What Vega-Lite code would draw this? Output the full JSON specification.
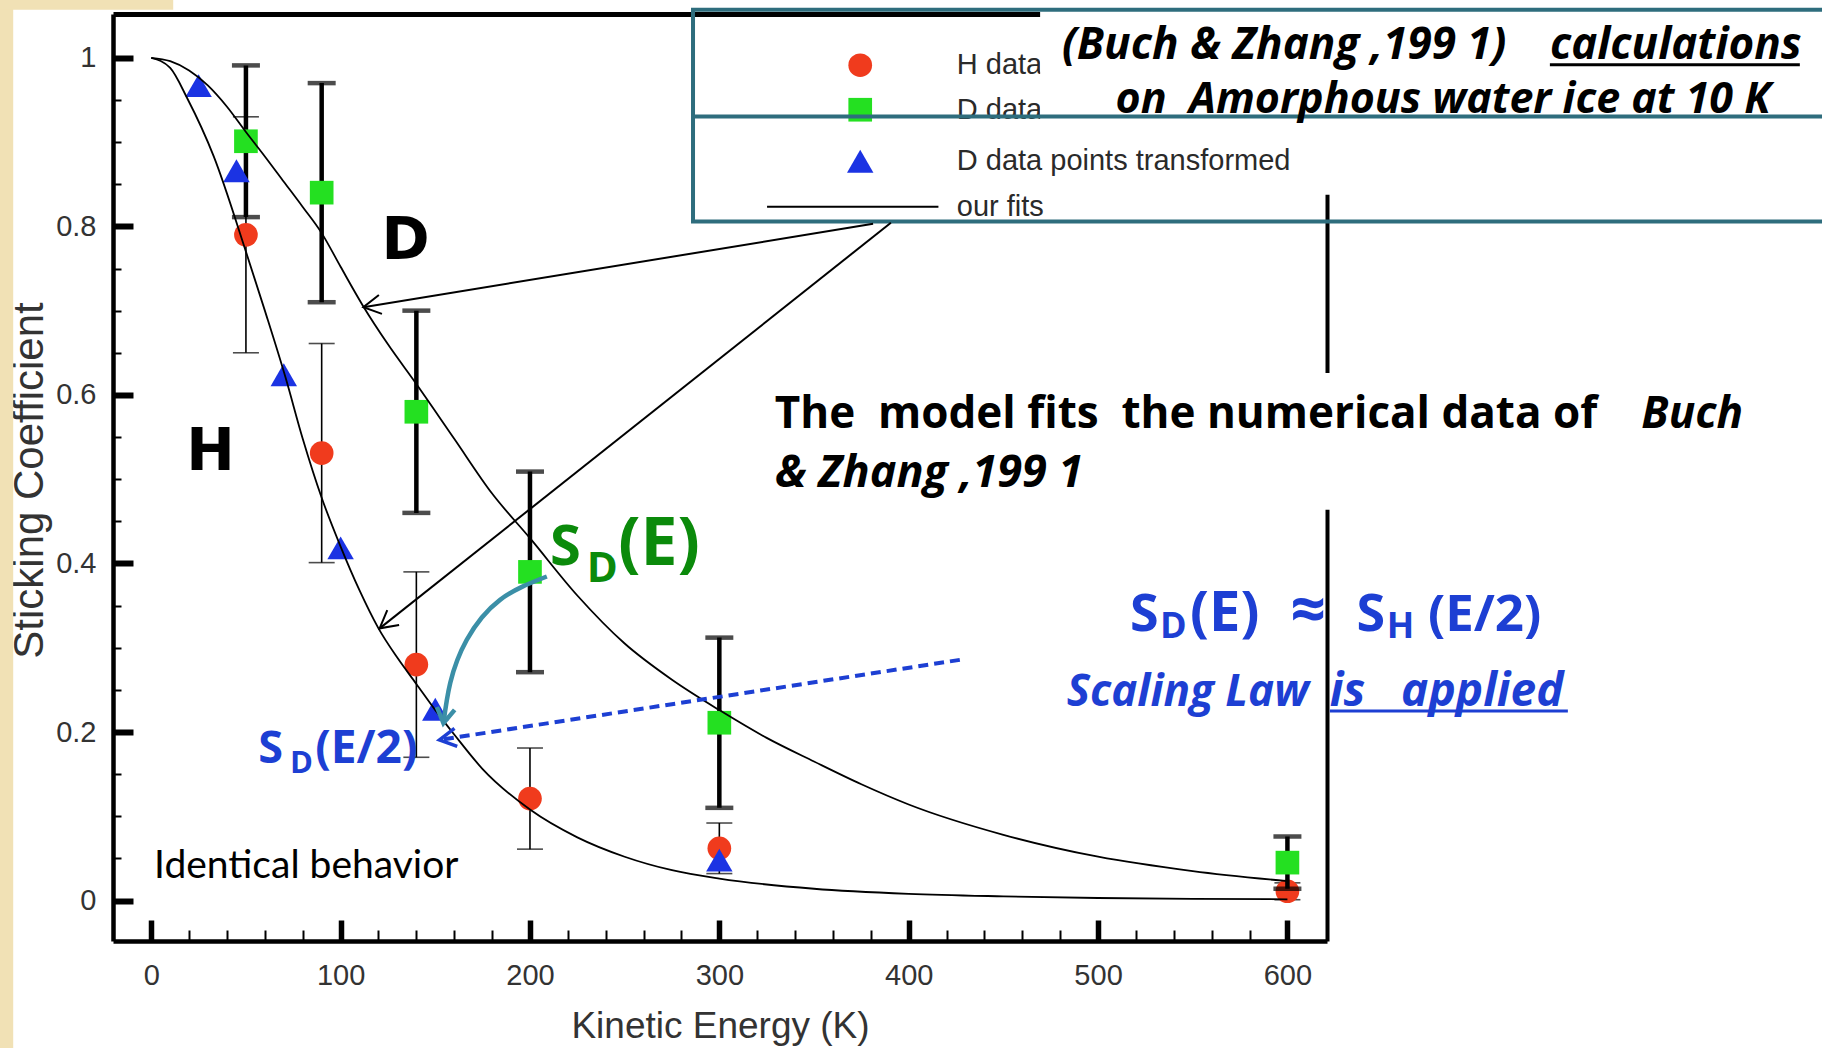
{
  "$schema": "https://vega.github.io/schema/vega-lite/v6.json",
  "width": 1214,
  "height": 927,
  "autosize": {"type": "none"},
  "padding": {"left": 113, "top": 14, "right": 495, "bottom": 107},
  "background": "white",
  "config": {"view": {"stroke": null}, "font": "Liberation Sans"},
  "data": {"values": [{}]},
  "datasets": {
    "H": [
      {"E": 50, "S": 0.79, "err": 0.14},
      {"E": 90, "S": 0.531, "err": 0.13},
      {"E": 140, "S": 0.28, "err": 0.11},
      {"E": 200, "S": 0.121, "err": 0.06},
      {"E": 300, "S": 0.062, "err": 0.03},
      {"E": 600, "S": 0.011, "err": 0.01}
    ],
    "D": [
      {"E": 50, "S": 0.901, "err": 0.09},
      {"E": 90, "S": 0.84, "err": 0.13},
      {"E": 140, "S": 0.58, "err": 0.12},
      {"E": 200, "S": 0.39, "err": 0.119},
      {"E": 300, "S": 0.211, "err": 0.101},
      {"E": 600, "S": 0.045, "err": 0.031}
    ],
    "Dt": [
      {"E": 25, "S": 0.967},
      {"E": 45, "S": 0.866},
      {"E": 70, "S": 0.624},
      {"E": 100, "S": 0.4185},
      {"E": 150, "S": 0.227},
      {"E": 300, "S": 0.048}
    ],
    "fits": [
      {"curve": "H", "E": 0, "S": 1.0}, {"curve": "H", "E": 10, "S": 0.988}, {"curve": "H", "E": 19, "S": 0.952},
      {"curve": "H", "E": 33, "S": 0.883}, {"curve": "H", "E": 50, "S": 0.77}, {"curve": "H", "E": 60, "S": 0.7},
      {"curve": "H", "E": 71, "S": 0.62}, {"curve": "H", "E": 80, "S": 0.548}, {"curve": "H", "E": 90, "S": 0.478},
      {"curve": "H", "E": 100, "S": 0.42}, {"curve": "H", "E": 110, "S": 0.368}, {"curve": "H", "E": 120, "S": 0.323},
      {"curve": "H", "E": 130, "S": 0.288}, {"curve": "H", "E": 140, "S": 0.257}, {"curve": "H", "E": 150, "S": 0.226},
      {"curve": "H", "E": 160, "S": 0.197}, {"curve": "H", "E": 175, "S": 0.156}, {"curve": "H", "E": 200, "S": 0.108},
      {"curve": "H", "E": 225, "S": 0.075}, {"curve": "H", "E": 250, "S": 0.052}, {"curve": "H", "E": 275, "S": 0.036},
      {"curve": "H", "E": 300, "S": 0.026}, {"curve": "H", "E": 350, "S": 0.014}, {"curve": "H", "E": 400, "S": 0.008},
      {"curve": "H", "E": 450, "S": 0.005}, {"curve": "H", "E": 500, "S": 0.003}, {"curve": "H", "E": 550, "S": 0.002},
      {"curve": "H", "E": 600, "S": 0.0015},
      {"curve": "D", "E": 0, "S": 1.0}, {"curve": "D", "E": 10, "S": 0.996}, {"curve": "D", "E": 20, "S": 0.985},
      {"curve": "D", "E": 30, "S": 0.967}, {"curve": "D", "E": 40, "S": 0.942}, {"curve": "D", "E": 50, "S": 0.912},
      {"curve": "D", "E": 60, "S": 0.883}, {"curve": "D", "E": 70, "S": 0.853}, {"curve": "D", "E": 80, "S": 0.823},
      {"curve": "D", "E": 90, "S": 0.792}, {"curve": "D", "E": 100, "S": 0.752}, {"curve": "D", "E": 112, "S": 0.705},
      {"curve": "D", "E": 125, "S": 0.66}, {"curve": "D", "E": 140, "S": 0.613}, {"curve": "D", "E": 160, "S": 0.548},
      {"curve": "D", "E": 180, "S": 0.483}, {"curve": "D", "E": 200, "S": 0.43}, {"curve": "D", "E": 225, "S": 0.362},
      {"curve": "D", "E": 250, "S": 0.305}, {"curve": "D", "E": 275, "S": 0.262}, {"curve": "D", "E": 300, "S": 0.226},
      {"curve": "D", "E": 325, "S": 0.193}, {"curve": "D", "E": 350, "S": 0.165}, {"curve": "D", "E": 375, "S": 0.138},
      {"curve": "D", "E": 400, "S": 0.114}, {"curve": "D", "E": 450, "S": 0.078}, {"curve": "D", "E": 500, "S": 0.052},
      {"curve": "D", "E": 550, "S": 0.035}, {"curve": "D", "E": 600, "S": 0.023}
    ],
    "arc": [
      {"E": 208.9, "S": 0.3845},
      {"E": 184.2, "S": 0.3568},
      {"E": 166.6, "S": 0.3093},
      {"E": 157.9, "S": 0.2583},
      {"E": 154.3, "S": 0.2104}
    ]
  },
  "resolve": {"axis": {"x": "independent", "y": "independent"}},
  "layer": [
    {
      "mark": {"type": "rect", "fill": "#f1e1b5"},
      "encoding": {
        "x": {"datum": -81, "axis": null}, "x2": {"datum": -72.9},
        "y": {"datum": -0.2, "axis": null}, "y2": {"datum": 1.1}
      }
    },
    {
      "mark": {"type": "rect", "fill": "#f1e1b5"},
      "encoding": {
        "x": {"datum": -81, "axis": null}, "x2": {"datum": 11.6},
        "y": {"datum": 1.0571, "axis": null}, "y2": {"datum": 1.1}
      }
    },
    {
      "mark": {"type": "rect", "fill": "white"},
      "encoding": {
        "x": {"datum": 560, "axis": null}, "x2": {"datum": 640},
        "y": {"datum": 0.8375, "axis": null}, "y2": {"datum": 0.95}
      }
    },
    {
      "data": {"name": "H"},
      "mark": {"type": "errorbar", "ticks": true, "thickness": 1.6, "size": 26, "color": "black"},
      "encoding": {
        "x": {"field": "E", "type": "quantitative", "axis": null, "scale": {"domain": [-20.2, 620.9], "nice": false, "zero": false}},
        "y": {"field": "S", "type": "quantitative", "axis": null, "scale": {"domain": [-0.048, 1.052], "nice": false, "zero": false}},
        "yError": {"field": "err"}
      }
    },
    {
      "data": {"name": "H"},
      "mark": {"type": "point", "shape": "circle", "filled": true, "fill": "#f03b1d", "size": 560, "opacity": 1, "strokeWidth": 0},
      "encoding": {
        "x": {
          "field": "E", "type": "quantitative",
          "scale": {"domain": [-20.2, 620.9], "nice": false, "zero": false},
          "axis": {
            "orient": "bottom", "values": [0, 100, 200, 300, 400, 500, 600], "format": "d",
            "tickSize": -21, "tickWidth": 5.5, "tickColor": "black",
            "domainWidth": 4.5, "domainColor": "black",
            "labelFont": "Liberation Sans", "labelFontSize": 29, "labelColor": "#333", "labelPadding": 41,
            "title": "Kinetic Energy (K)", "titleFont": "Liberation Sans", "titleFontSize": 37,
            "titleFontWeight": "normal", "titleColor": "#333",
            "titleX": 607, "titleY": 96, "titleAlign": "center", "titleBaseline": "alphabetic",
            "grid": false, "zindex": 0
          }
        },
        "y": {
          "field": "S", "type": "quantitative",
          "scale": {"domain": [-0.048, 1.052], "nice": false, "zero": false},
          "axis": {
            "orient": "left", "values": [0, 0.2, 0.4, 0.6, 0.8, 1], "format": "~g",
            "tickSize": -20, "tickWidth": 6, "tickColor": "black",
            "domainWidth": 4.5, "domainColor": "black",
            "labelFont": "Liberation Sans", "labelFontSize": 29, "labelColor": "#333", "labelPadding": 37,
            "title": "Sticking Coefficient", "titleFont": "Liberation Sans", "titleFontSize": 42,
            "titleFontWeight": "normal", "titleColor": "#333",
            "titleX": -84, "titleY": 466, "titleAngle": -90, "titleAlign": "center", "titleBaseline": "middle",
            "grid": false, "zindex": 0
          }
        }
      }
    },
    {
      "data": {"name": "D"},
      "mark": {"type": "errorbar", "ticks": true, "thickness": 4.5, "size": 28, "color": "black"},
      "encoding": {
        "x": {"field": "E", "type": "quantitative", "axis": null},
        "y": {"field": "S", "type": "quantitative", "axis": null},
        "yError": {"field": "err"}
      }
    },
    {
      "data": {"name": "D"},
      "mark": {"type": "point", "shape": "square", "filled": true, "fill": "#24e021", "size": 560, "opacity": 1, "strokeWidth": 0},
      "encoding": {
        "x": {
          "field": "E", "type": "quantitative",
          "axis": {
            "orient": "bottom",
            "values": [20, 40, 60, 80, 120, 140, 160, 180, 220, 240, 260, 280, 320, 340, 360, 380, 420, 440, 460, 480, 520, 540, 560, 580],
            "tickSize": -11, "tickWidth": 2, "tickColor": "black",
            "labels": false, "domain": false, "grid": false, "title": null, "zindex": 0
          }
        },
        "y": {
          "field": "S", "type": "quantitative",
          "axis": {
            "orient": "left",
            "values": [0.05, 0.1, 0.15, 0.25, 0.3, 0.35, 0.45, 0.5, 0.55, 0.65, 0.7, 0.75, 0.85, 0.9, 0.95],
            "tickSize": -8, "tickWidth": 2, "tickColor": "black",
            "labels": false, "domain": false, "grid": false, "title": null, "zindex": 0
          }
        }
      }
    },
    {
      "data": {"name": "Dt"},
      "mark": {"type": "point", "shape": "triangle-up", "filled": true, "fill": "#1b33e3", "size": 700, "opacity": 1, "strokeWidth": 0},
      "encoding": {
        "x": {
          "field": "E", "type": "quantitative",
          "axis": {"orient": "top", "ticks": false, "labels": false, "domainWidth": 5, "domainColor": "black", "grid": false, "title": null, "zindex": 0}
        },
        "y": {
          "field": "S", "type": "quantitative",
          "axis": {"orient": "right", "ticks": false, "labels": false, "domainWidth": 4, "domainColor": "black", "grid": false, "title": null, "zindex": 0}
        }
      }
    },
    {
      "data": {"name": "fits"},
      "mark": {"type": "line", "stroke": "black", "strokeWidth": 1.8, "interpolate": "monotone"},
      "encoding": {
        "x": {"field": "E", "type": "quantitative", "axis": null},
        "y": {"field": "S", "type": "quantitative", "axis": null},
        "detail": {"field": "curve"}
      }
    },
    {
      "mark": {"type": "point", "shape": "circle", "filled": true, "fill": "#f03b1d", "size": 560, "opacity": 1, "strokeWidth": 0},
      "encoding": {"x": {"datum": 374.4, "axis": null}, "y": {"datum": 0.9912, "axis": null}}
    },
    {
      "mark": {"type": "point", "shape": "square", "filled": true, "fill": "#24e021", "size": 560, "opacity": 1, "strokeWidth": 0},
      "encoding": {"x": {"datum": 374.4, "axis": null}, "y": {"datum": 0.9384, "axis": null}}
    },
    {
      "mark": {"type": "point", "shape": "triangle-up", "filled": true, "fill": "#1b33e3", "size": 700, "opacity": 1, "strokeWidth": 0},
      "encoding": {"x": {"datum": 374.4, "axis": null}, "y": {"datum": 0.8773, "axis": null}}
    },
    {
      "mark": {"type": "rule", "stroke": "black", "strokeWidth": 1.8},
      "encoding": {"x": {"datum": 325.2, "axis": null}, "x2": {"datum": 415.7}, "y": {"datum": 0.8233, "axis": null}}
    },
    {
      "mark": {"type": "text", "text": "H data", "align": "left", "baseline": "middle", "font": "Liberation Sans", "fontSize": 29, "fill": "#2a2a2a"},
      "encoding": {"x": {"datum": 425.4, "axis": null}, "y": {"datum": 0.9912, "axis": null}}
    },
    {
      "mark": {"type": "text", "text": "D data", "align": "left", "baseline": "middle", "font": "Liberation Sans", "fontSize": 29, "fill": "#2a2a2a"},
      "encoding": {"x": {"datum": 425.4, "axis": null}, "y": {"datum": 0.9384, "axis": null}}
    },
    {
      "mark": {"type": "text", "text": "D data points transformed", "align": "left", "baseline": "middle", "font": "Liberation Sans", "fontSize": 29, "fill": "#2a2a2a"},
      "encoding": {"x": {"datum": 425.4, "axis": null}, "y": {"datum": 0.8773, "axis": null}}
    },
    {
      "mark": {"type": "text", "text": "our fits", "align": "left", "baseline": "middle", "font": "Liberation Sans", "fontSize": 29, "fill": "#2a2a2a"},
      "encoding": {"x": {"datum": 425.4, "axis": null}, "y": {"datum": 0.8233, "axis": null}}
    },
    {
      "mark": {"type": "rect", "fill": "white"},
      "encoding": {
        "x": {"datum": 469.4, "axis": null}, "x2": {"datum": 900},
        "y": {"datum": 0.9146, "axis": null}, "y2": {"datum": 1.1}
      }
    },
    {
      "mark": {"type": "rect", "fill": "white"},
      "encoding": {
        "x": {"datum": 325, "axis": null}, "x2": {"datum": 900},
        "y": {"datum": 0.4636, "axis": null}, "y2": {"datum": 0.626}
      }
    },
    {
      "mark": {"type": "rect", "fill": "transparent", "stroke": "#2e6d7d", "strokeWidth": 4},
      "encoding": {
        "x": {"datum": 286.1, "axis": null}, "x2": {"datum": 886.4},
        "y": {"datum": 0.8058, "axis": null}, "y2": {"datum": 1.0571}
      }
    },
    {
      "mark": {"type": "rule", "stroke": "#2e6d7d", "strokeWidth": 4},
      "encoding": {"x": {"datum": 286.1, "axis": null}, "x2": {"datum": 886.4}, "y": {"datum": 0.9305, "axis": null}}
    },
    {
      "mark": {"type": "rule", "stroke": "black", "strokeWidth": 2},
      "encoding": {"x": {"datum": 381.2, "axis": null}, "y": {"datum": 0.803, "axis": null}, "x2": {"datum": 112.0}, "y2": {"datum": 0.704}}
    },
    {
      "mark": {"type": "point", "shape": "M -1 -0.55 L 0 0 L -1 0.55", "angle": 170.7, "size": 1200, "filled": false, "stroke": "black", "strokeWidth": 2, "opacity": 1},
      "encoding": {"x": {"datum": 112.0, "axis": null}, "y": {"datum": 0.704, "axis": null}}
    },
    {
      "mark": {"type": "rule", "stroke": "black", "strokeWidth": 2},
      "encoding": {"x": {"datum": 390.6, "axis": null}, "y": {"datum": 0.8043, "axis": null}, "x2": {"datum": 120.6}, "y2": {"datum": 0.323}}
    },
    {
      "mark": {"type": "point", "shape": "M -1 -0.55 L 0 0 L -1 0.55", "angle": 141.6, "size": 1200, "filled": false, "stroke": "black", "strokeWidth": 2, "opacity": 1},
      "encoding": {"x": {"datum": 120.6, "axis": null}, "y": {"datum": 0.323, "axis": null}}
    },
    {
      "data": {"name": "arc"},
      "mark": {"type": "line", "stroke": "#3b8fa7", "strokeWidth": 4.5, "interpolate": "natural"},
      "encoding": {
        "x": {"field": "E", "type": "quantitative", "axis": null},
        "y": {"field": "S", "type": "quantitative", "axis": null}
      }
    },
    {
      "mark": {"type": "point", "shape": "M -1 -0.6 L 0 0 L -1 0.6", "angle": 99, "size": 900, "filled": false, "stroke": "#3b8fa7", "strokeWidth": 4.5, "opacity": 1},
      "encoding": {"x": {"datum": 154.3, "axis": null}, "y": {"datum": 0.2104, "axis": null}}
    },
    {
      "mark": {"type": "rule", "stroke": "#1d3fd3", "strokeWidth": 4, "strokeDash": [10, 6]},
      "encoding": {"x": {"datum": 427, "axis": null}, "y": {"datum": 0.2856, "axis": null}, "x2": {"datum": 152.2}, "y2": {"datum": 0.1906}}
    },
    {
      "mark": {"type": "point", "shape": "M -1 -0.55 L 0 0 L -1 0.55", "angle": 171.3, "size": 1100, "filled": false, "stroke": "#1d3fd3", "strokeWidth": 3.5, "opacity": 1},
      "encoding": {"x": {"datum": 152.2, "axis": null}, "y": {"datum": 0.1906, "axis": null}}
    },
    {
      "mark": {"type": "text", "text": "D", "align": "center", "baseline": "middle", "font": "DejaVu Sans", "fontWeight": "bold", "fontSize": 58, "fill": "black"},
      "encoding": {"x": {"datum": 134.3, "axis": null}, "y": {"datum": 0.782, "axis": null}}
    },
    {
      "mark": {"type": "text", "text": "H", "align": "center", "baseline": "middle", "font": "DejaVu Sans", "fontWeight": "bold", "fontSize": 58, "fill": "black"},
      "encoding": {"x": {"datum": 31.3, "axis": null}, "y": {"datum": 0.531, "axis": null}}
    },
    {
      "mark": {"type": "text", "text": "Identical behavior", "align": "left", "baseline": "alphabetic", "font": "Lato", "fontSize": 39, "fill": "black"},
      "encoding": {"x": {"datum": 1.5, "axis": null}, "y": {"datum": 0.027, "axis": null}}
    },
    {
      "mark": {"type": "text", "text": "S", "align": "left", "baseline": "alphabetic", "font": "Open Sans", "fontWeight": "bold", "fontSize": 56, "fill": "#0b8a0b"},
      "encoding": {"x": {"datum": 210.6, "axis": null}, "y": {"datum": 0.3983, "axis": null}}
    },
    {
      "mark": {"type": "text", "text": "D", "align": "left", "baseline": "alphabetic", "font": "Open Sans", "fontWeight": "bold", "fontSize": 42, "fill": "#0b8a0b"},
      "encoding": {"x": {"datum": 230, "axis": null}, "y": {"datum": 0.3785, "axis": null}}
    },
    {
      "mark": {"type": "text", "text": "(E)", "align": "left", "baseline": "alphabetic", "font": "Open Sans", "fontWeight": "bold", "fontSize": 66, "fill": "#0b8a0b"},
      "encoding": {"x": {"datum": 246.6, "axis": null}, "y": {"datum": 0.3983, "axis": null}}
    },
    {
      "mark": {"type": "text", "text": "S", "align": "left", "baseline": "alphabetic", "font": "Open Sans", "fontWeight": "bold", "fontSize": 45, "fill": "#1d3fd3"},
      "encoding": {"x": {"datum": 56.5, "axis": null}, "y": {"datum": 0.1638, "axis": null}}
    },
    {
      "mark": {"type": "text", "text": "D", "align": "left", "baseline": "alphabetic", "font": "Open Sans", "fontWeight": "bold", "fontSize": 31, "fill": "#1d3fd3"},
      "encoding": {"x": {"datum": 73.3, "axis": null}, "y": {"datum": 0.1518, "axis": null}}
    },
    {
      "mark": {"type": "text", "text": "(E/2)", "align": "left", "baseline": "alphabetic", "font": "Open Sans", "fontWeight": "bold", "fontSize": 46, "fill": "#1d3fd3"},
      "encoding": {"x": {"datum": 86.6, "axis": null}, "y": {"datum": 0.1638, "axis": null}}
    },
    {
      "mark": {"type": "text", "text": "S", "align": "left", "baseline": "alphabetic", "font": "Open Sans", "fontWeight": "bold", "fontSize": 52, "fill": "#1d3fd3"},
      "encoding": {"x": {"datum": 516.9, "axis": null}, "y": {"datum": 0.32, "axis": null}}
    },
    {
      "mark": {"type": "text", "text": "D", "align": "left", "baseline": "alphabetic", "font": "Open Sans", "fontWeight": "bold", "fontSize": 36, "fill": "#1d3fd3"},
      "encoding": {"x": {"datum": 532.7, "axis": null}, "y": {"datum": 0.3117, "axis": null}}
    },
    {
      "mark": {"type": "text", "text": "(E)", "align": "left", "baseline": "alphabetic", "font": "Open Sans", "fontWeight": "bold", "fontSize": 56, "fill": "#1d3fd3"},
      "encoding": {"x": {"datum": 548.6, "axis": null}, "y": {"datum": 0.32, "axis": null}}
    },
    {
      "mark": {"type": "text", "text": "≈", "align": "left", "baseline": "alphabetic", "font": "Open Sans", "fontWeight": "bold", "fontSize": 62, "fill": "#1d3fd3"},
      "encoding": {"x": {"datum": 601.5, "axis": null}, "y": {"datum": 0.32, "axis": null}}
    },
    {
      "mark": {"type": "text", "text": "S", "align": "left", "baseline": "alphabetic", "font": "Open Sans", "fontWeight": "bold", "fontSize": 52, "fill": "#1d3fd3"},
      "encoding": {"x": {"datum": 636.5, "axis": null}, "y": {"datum": 0.32, "axis": null}}
    },
    {
      "mark": {"type": "text", "text": "H", "align": "left", "baseline": "alphabetic", "font": "Open Sans", "fontWeight": "bold", "fontSize": 36, "fill": "#1d3fd3"},
      "encoding": {"x": {"datum": 652.4, "axis": null}, "y": {"datum": 0.3117, "axis": null}}
    },
    {
      "mark": {"type": "text", "text": "(E/2)", "align": "left", "baseline": "alphabetic", "font": "Open Sans", "fontWeight": "bold", "fontSize": 51, "fill": "#1d3fd3"},
      "encoding": {"x": {"datum": 674.2, "axis": null}, "y": {"datum": 0.32, "axis": null}}
    },
    {
      "mark": {"type": "text", "text": "Scaling Law", "align": "left", "baseline": "alphabetic", "font": "Open Sans", "fontWeight": "bold", "fontStyle": "italic", "fontSize": 44, "fill": "#1d3fd3"},
      "encoding": {"x": {"datum": 483.4, "axis": null}, "y": {"datum": 0.231, "axis": null}}
    },
    {
      "mark": {"type": "text", "text": "is\u00a0\u00a0 applied", "align": "left", "baseline": "alphabetic", "font": "Open Sans", "fontWeight": "bold", "fontStyle": "italic", "fontSize": 46, "fill": "#1d3fd3"},
      "encoding": {"x": {"datum": 622.4, "axis": null}, "y": {"datum": 0.231, "axis": null}}
    },
    {
      "mark": {"type": "rule", "stroke": "#1d3fd3", "strokeWidth": 3},
      "encoding": {"x": {"datum": 622.4, "axis": null}, "x2": {"datum": 748.1}, "y": {"datum": 0.225, "axis": null}}
    },
    {
      "mark": {"type": "text", "text": "The\u00a0 model fits\u00a0 the numerical data of", "align": "left", "baseline": "alphabetic", "font": "Open Sans", "fontWeight": "bold", "fontSize": 44, "fill": "black"},
      "encoding": {"x": {"datum": 329.3, "axis": null}, "y": {"datum": 0.5609, "axis": null}}
    },
    {
      "mark": {"type": "text", "text": "Buch", "align": "left", "baseline": "alphabetic", "font": "Open Sans", "fontWeight": "bold", "fontStyle": "italic", "fontSize": 44, "fill": "black"},
      "encoding": {"x": {"datum": 786.9, "axis": null}, "y": {"datum": 0.5609, "axis": null}}
    },
    {
      "mark": {"type": "text", "text": "& Zhang ,199 1", "align": "left", "baseline": "alphabetic", "font": "Open Sans", "fontWeight": "bold", "fontStyle": "italic", "fontSize": 45, "fill": "black"},
      "encoding": {"x": {"datum": 329.3, "axis": null}, "y": {"datum": 0.4903, "axis": null}}
    },
    {
      "mark": {"type": "text", "text": "(Buch & Zhang ,199 1)", "align": "left", "baseline": "alphabetic", "font": "Open Sans", "fontWeight": "bold", "fontStyle": "italic", "fontSize": 44, "fill": "black"},
      "encoding": {"x": {"datum": 480.9, "axis": null}, "y": {"datum": 0.9989, "axis": null}}
    },
    {
      "mark": {"type": "text", "text": "calculations", "align": "left", "baseline": "alphabetic", "font": "Open Sans", "fontWeight": "bold", "fontStyle": "italic", "fontSize": 44, "fill": "black"},
      "encoding": {"x": {"datum": 738.6, "axis": null}, "y": {"datum": 0.9989, "axis": null}}
    },
    {
      "mark": {"type": "rule", "stroke": "black", "strokeWidth": 3},
      "encoding": {"x": {"datum": 738.6, "axis": null}, "x2": {"datum": 870.6}, "y": {"datum": 0.9918, "axis": null}}
    },
    {
      "mark": {"type": "text", "text": "on\u00a0 Amorphous water ice at 10 K", "align": "left", "baseline": "alphabetic", "font": "Open Sans", "fontWeight": "bold", "fontStyle": "italic", "fontSize": 43, "fill": "black"},
      "encoding": {"x": {"datum": 509.2, "axis": null}, "y": {"datum": 0.9345, "axis": null}}
    }
  ]
}
